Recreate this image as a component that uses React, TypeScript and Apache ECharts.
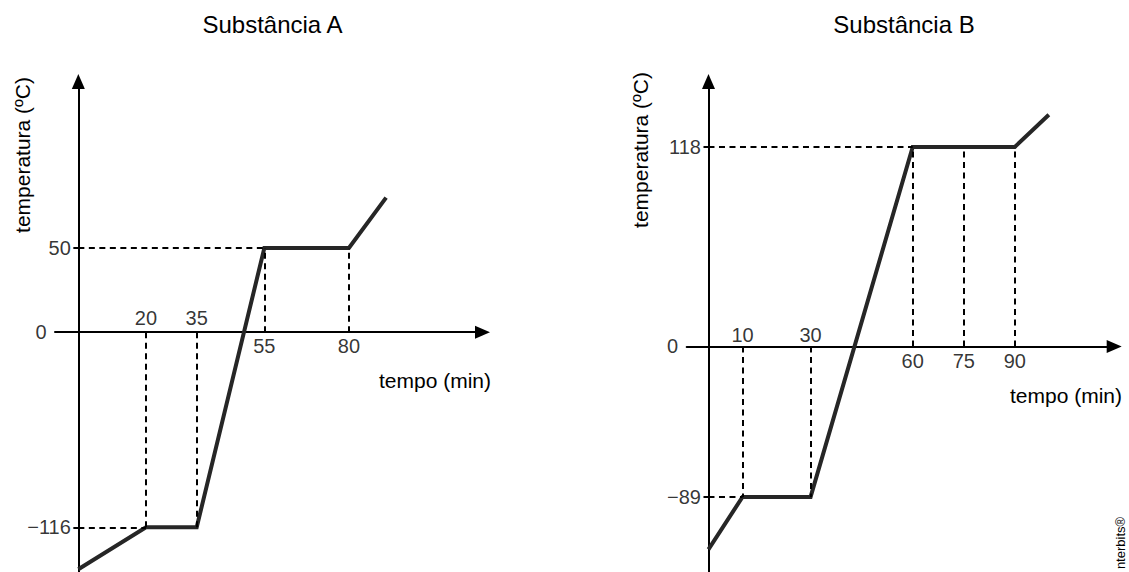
import React, { useEffect, useRef } from "react";
import * as echarts from "echarts";

// ---- data ----
const timeA = [0, 20, 35, 55, 80, 91];
const tempA = [-141, -116, -116, 50, 50, 80];
const timeB = [0, 10, 30, 60, 90, 100];
const tempB = [-120, -89, -89, 118, 118, 137];

const topTicksA = [20, 35];
const bottomTicksA = [55, 80];
const levelsA = [50, -116];
const topTicksB = [10, 30];
const bottomTicksB = [60, 75, 90];
const levelsB = [118, -89];

// vertical guides: [time, temperature]
const dropsA = [[20, -116], [35, -116], [55, 50], [80, 50]];
const dropsB = [[10, -89], [30, -89], [60, 118], [75, 118], [90, 118]];
// horizontal guides: [temperature, time]
const hLinesA = [[50, 55], [-116, 20]];
const hLinesB = [[118, 60], [-89, 10]];

const titles = ["Substância A", "Substância B"];
const xName = "tempo (min)";
const yName = "temperatura (ºC)";
const watermark = "nterbits®";

// ---- layout ----
const FONT = '"Liberation Sans", Arial, Helvetica, sans-serif';
const xRangeA = [-6.9, 119.5];
const yRangeA = [-142.6, 149.0];
const xRangeB = [-6.4, 119.2];
const yRangeB = [-133.4, 156.7];

const fmt = (v: number) => (v < 0 ? "\u2212" + Math.abs(v) : String(v));

function buildPanel(
  idx: number,
  time: number[],
  temp: number[],
  topTicks: number[],
  bottomTicks: number[],
  levels: number[],
  drops: number[][],
  hLines: number[][],
  xr: number[],
  yr: number[],
  topOff: number,
  botOff: number
) {
  const axisLine = {
    onZero: true,
    symbol: ["none", "triangle"],
    symbolSize: [13, 15],
    lineStyle: { color: "#000", width: 2 },
  };
  const xAxis = {
    gridIndex: idx,
    type: "value",
    min: xr[0],
    max: xr[1],
    axisLine,
    axisTick: { show: false },
    axisLabel: { show: false },
    splitLine: { show: false },
  };
  const yAxis = {
    gridIndex: idx,
    type: "value",
    min: yr[0],
    max: yr[1],
    axisLine,
    axisTick: {
      show: true,
      customValues: levels,
      length: 5,
      lineStyle: { color: "#000", width: 2 },
    },
    axisLabel: { show: false },
    splitLine: { show: false },
  };
  const hidden = { color: "rgba(0,0,0,0)" };
  const labelBase = { show: true, color: "#000", fontSize: 20, fontFamily: FONT };
  const series: any[] = [
    {
      type: "line",
      xAxisIndex: idx,
      yAxisIndex: idx,
      data: [],
      z: 1,
      silent: true,
      markLine: {
        silent: true,
        symbol: ["none", "none"],
        label: { show: false },
        lineStyle: { color: "#000", width: 2, type: [6, 4.5] },
        data: [
          ...drops.map(([t, T]) => [{ coord: [t, 0] }, { coord: [t, T] }]),
          ...hLines.map(([T, t]) => [{ coord: [0, T] }, { coord: [t, T] }]),
        ],
      },
    },
    {
      type: "line",
      xAxisIndex: idx,
      yAxisIndex: idx,
      data: time.map((t, i) => [t, temp[i]]),
      symbol: "none",
      z: 3,
      silent: true,
      lineStyle: { color: "#262626", width: 4, join: "miter", cap: "butt" },
    },
    {
      type: "scatter",
      xAxisIndex: idx,
      yAxisIndex: idx,
      symbolSize: 1,
      itemStyle: hidden,
      silent: true,
      data: topTicks.map((t) => [t, 0]),
      label: { ...labelBase, position: "inside", offset: [0, -topOff], formatter: (p: any) => fmt(p.value[0]) },
    },
    {
      type: "scatter",
      xAxisIndex: idx,
      yAxisIndex: idx,
      symbolSize: 1,
      itemStyle: hidden,
      silent: true,
      data: bottomTicks.map((t) => [t, 0]),
      label: { ...labelBase, position: "inside", offset: [0, botOff], formatter: (p: any) => fmt(p.value[0]) },
    },
    {
      type: "scatter",
      xAxisIndex: idx,
      yAxisIndex: idx,
      symbolSize: 1,
      itemStyle: hidden,
      silent: true,
      data: levels.map((v) => [0, v]),
      label: { ...labelBase, position: "left", distance: 7, formatter: (p: any) => fmt(p.value[1]) },
    },
    {
      type: "scatter",
      xAxisIndex: idx,
      yAxisIndex: idx,
      symbolSize: 1,
      itemStyle: hidden,
      silent: true,
      data: [[xr[0], 0]],
      label: { ...labelBase, position: "left", distance: 8, formatter: () => "0" },
    },
  ];
  return { xAxis, yAxis, series };
}

export default function App() {
  const ref = useRef<HTMLDivElement>(null);
  useEffect(() => {
    if (!ref.current) return;
    const chart = echarts.init(ref.current, undefined, { renderer: "svg" });
    const A = buildPanel(0, timeA, tempA, topTicksA, bottomTicksA, levelsA, dropsA, hLinesA, xRangeA, yRangeA, 14.5, 14);
    const B = buildPanel(1, timeB, tempB, topTicksB, bottomTicksB, levelsB, dropsB, hLinesB, xRangeB, yRangeB, 11.5, 15);
    const txt = (text: string, x: number, y: number, size: number, rot = 0) => ({
      type: "text",
      x,
      y,
      rotation: rot,
      silent: true,
      style: { text, fill: "#000", fontSize: size, fontFamily: FONT, align: "center", verticalAlign: "middle" },
    });
    chart.setOption({
      animation: false,
      backgroundColor: "#fff",
      grid: [
        { left: 55, top: 81.5, width: 427.5, height: 490.5 },
        { left: 686.7, top: 81.5, width: 427.5, height: 490.5 },
      ],
      xAxis: [A.xAxis, B.xAxis],
      yAxis: [A.yAxis, B.yAxis],
      series: [...A.series, ...B.series],
      graphic: [
        txt(titles[0], 272.5, 24.5, 24),
        txt(titles[1], 904, 24.5, 24),
        txt(xName, 435, 380, 21),
        txt(xName, 1066, 395, 21),
        txt(yName, 22, 155, 21, Math.PI / 2),
        txt(yName, 640, 150, 21, Math.PI / 2),
        txt(watermark, 1120, 543, 13, Math.PI / 2),
      ],
    });
    return () => chart.dispose();
  }, []);
  return (
    <div
      ref={ref}
      style={{ position: "fixed", left: 0, top: 0, width: 1129, height: 572, background: "#fff" }}
    />
  );
}
